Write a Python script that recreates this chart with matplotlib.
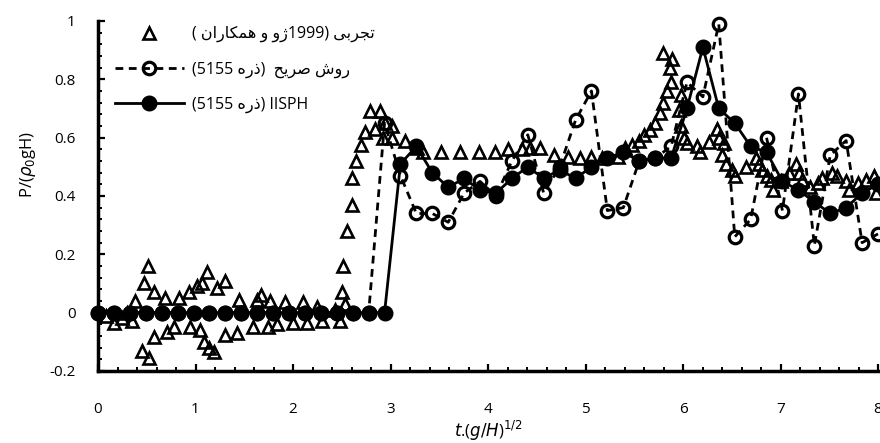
import numpy as np
import matplotlib.pyplot as plt
from matplotlib.ticker import MultipleLocator, FuncFormatter

# time of the numerical outputs (same grid for both SPH runs)
t_num = [0.000, 0.163, 0.327, 0.490, 0.653, 0.816, 0.980, 1.143, 1.306, 1.469,
         1.633, 1.796, 1.959, 2.122, 2.286, 2.449, 2.612, 2.776, 2.939, 3.102,
         3.265, 3.429, 3.592, 3.755, 3.918, 4.082, 4.245, 4.408, 4.571, 4.735,
         4.898, 5.061, 5.224, 5.388, 5.551, 5.714, 5.878, 6.041, 6.204, 6.367,
         6.531, 6.694, 6.857, 7.020, 7.184, 7.347, 7.510, 7.673, 7.837, 8.000]

p_explicit = [0, 0, 0, 0, 0, 0, 0, 0, 0, 0,
              0, 0, 0, 0, 0, 0, 0, 0, 0.65, 0.47,
              0.34, 0.34, 0.31, 0.41, 0.45, 0.40, 0.52, 0.61, 0.41, 0.50,
              0.66, 0.76, 0.35, 0.36, 0.52, 0.53, 0.57, 0.79, 0.74, 0.99,
              0.26, 0.32, 0.60, 0.35, 0.75, 0.23, 0.54, 0.59, 0.24, 0.27]

p_iisph = [0, 0, 0, 0, 0, 0, 0, 0, 0, 0,
           0, 0, 0, 0, 0, 0, 0, 0, 0, 0.51,
           0.57, 0.48, 0.43, 0.46, 0.42, 0.41, 0.46, 0.50, 0.46, 0.49,
           0.46, 0.50, 0.53, 0.55, 0.52, 0.53, 0.53, 0.70, 0.91, 0.70,
           0.65, 0.57, 0.55, 0.45, 0.42, 0.38, 0.34, 0.36, 0.41, 0.44]

# experiment (Zhou et al. 1999)
t_exp = [0.08, 0.16, 0.25, 0.30, 0.35, 0.38, 0.45, 0.47, 0.51, 0.52,
         0.57, 0.57, 0.69, 0.71, 0.78, 0.83, 0.93, 0.94, 1.02, 1.05,
         1.07, 1.09, 1.12, 1.14, 1.19, 1.22, 1.30, 1.30, 1.43, 1.45,
         1.59, 1.63, 1.67, 1.74, 1.76, 1.84, 1.92, 2.00, 2.10, 2.14,
         2.25, 2.30, 2.43, 2.48, 2.50, 2.51, 2.53, 2.55, 2.60, 2.61,
         2.65, 2.70, 2.74, 2.79, 2.84, 2.89, 2.92, 2.94, 3.02, 3.02,
         3.15, 3.27, 3.33, 3.52, 3.71, 3.91, 4.07, 4.20, 4.35, 4.43,
         4.53, 4.68, 4.82, 4.94, 5.06, 5.17, 5.33, 5.40, 5.48, 5.55,
         5.60, 5.66, 5.71, 5.76, 5.79, 5.84, 5.88, 5.87, 5.89, 5.79,
         5.98, 5.96, 5.98, 6.01, 6.04, 6.14, 6.17, 6.27, 6.35, 6.37,
         6.42, 6.40, 6.44, 6.50, 6.53, 6.65, 6.75, 6.78, 6.81, 6.86,
         6.90, 6.92, 7.01, 7.09, 7.16, 7.19, 7.22, 7.30, 7.38, 7.43,
         7.53, 7.58, 7.67, 7.70, 7.79, 7.88, 7.96, 7.98]
p_exp = [-0.01, -0.035, -0.02, 0.00, -0.03, 0.04, -0.13, 0.10, 0.16, -0.155,
         0.07, -0.085, 0.05, -0.065, -0.05, 0.05, 0.07, -0.05, 0.09, -0.06,
         0.10, -0.10, 0.14, -0.12, -0.135, 0.085, 0.11, -0.075, -0.07, 0.045,
         -0.05, 0.045, 0.06, -0.05, 0.04, -0.04, 0.035, -0.035, 0.035, -0.035,
         0.02, -0.03, 0.01, -0.03, 0.07, 0.16, 0.03, 0.28, 0.37, 0.46,
         0.52, 0.575, 0.62, 0.69, 0.63, 0.69, 0.60, 0.65, 0.64, 0.60,
         0.59, 0.565, 0.55, 0.55, 0.55, 0.55, 0.55, 0.56, 0.56, 0.565,
         0.565, 0.54, 0.535, 0.53, 0.535, 0.53, 0.535, 0.565, 0.575, 0.59,
         0.61, 0.625, 0.65, 0.685, 0.72, 0.76, 0.79, 0.84, 0.87, 0.89,
         0.745, 0.695, 0.64, 0.60, 0.58, 0.57, 0.55, 0.585, 0.63, 0.60,
         0.58, 0.54, 0.51, 0.49, 0.47, 0.50, 0.53, 0.51, 0.49, 0.47,
         0.455, 0.42, 0.45, 0.48, 0.51, 0.48, 0.455, 0.43, 0.445, 0.46,
         0.48, 0.47, 0.45, 0.42, 0.445, 0.455, 0.47, 0.41]

# contextual forms (isolated, final, initial, medial) so persian text is joined
FORMS = {
    '\u0627': ('\ufe8d', '\ufe8e', None, None),
    '\u0628': ('\ufe8f', '\ufe90', '\ufe91', '\ufe92'),
    '\u062a': ('\ufe95', '\ufe96', '\ufe97', '\ufe98'),
    '\u062c': ('\ufe9d', '\ufe9e', '\ufe9f', '\ufea0'),
    '\u062d': ('\ufea1', '\ufea2', '\ufea3', '\ufea4'),
    '\u0630': ('\ufeab', '\ufeac', None, None),
    '\u0631': ('\ufead', '\ufeae', None, None),
    '\u0698': ('\ufb8a', '\ufb8b', None, None),
    '\u0634': ('\ufeb5', '\ufeb6', '\ufeb7', '\ufeb8'),
    '\u0635': ('\ufeb9', '\ufeba', '\ufebb', '\ufebc'),
    '\u06a9': ('\ufb8e', '\ufb8f', '\ufb90', '\ufb91'),
    '\u0645': ('\ufee1', '\ufee2', '\ufee3', '\ufee4'),
    '\u0646': ('\ufee5', '\ufee6', '\ufee7', '\ufee8'),
    '\u0647': ('\ufee9', '\ufeea', '\ufeeb', '\ufeec'),
    '\u0648': ('\ufeed', '\ufeee', None, None),
    '\u06cc': ('\ufbfc', '\ufbfd', '\ufbfe', '\ufbff'),
}


def fa(word):
    word = word.replace('\u0643', '\u06a9').replace('\u064a', '\u06cc')
    out = []
    for i, ch in enumerate(word):
        iso, fin, ini, med = FORMS[ch]
        prev_joins = i > 0 and FORMS[word[i - 1]][2] is not None
        next_joins = i < len(word) - 1 and ini is not None
        if prev_joins and next_joins:
            out.append(med)
        elif prev_joins:
            out.append(fin)
        elif next_joins:
            out.append(ini)
        else:
            out.append(iso)
    return ''.join(reversed(out))


lab_exp = '( ' + fa('همکاران') + ' ' + fa('و') + ' ' + fa('ژو') + '1999) ' + fa('تجربی')
lab_explicit = '(5155 ' + fa('ذره') + ')  ' + fa('صریح') + ' ' + fa('روش')
lab_iisph = '(5155 ' + fa('ذره') + ') IISPH'

plt.rcParams['font.family'] = ['Open Sans', 'DejaVu Sans']
plt.rcParams['mathtext.fontset'] = 'dejavusans'

fig = plt.figure(figsize=(8.8, 4.43), dpi=100)
ax = fig.add_axes([98 / 880, 1 - 371 / 443, 780 / 880, 350 / 443])

ax.plot(t_exp, p_exp, linestyle='none', marker='^', markersize=9,
        markerfacecolor='none', markeredgecolor='black', markeredgewidth=1.9,
        clip_on=False, label=lab_exp)
ax.plot(t_num, p_explicit, linestyle=(0, (2.8, 2)), color='black', linewidth=2,
        marker='o', markersize=9, markerfacecolor='none',
        markeredgecolor='black', markeredgewidth=2.3, clip_on=False,
        label=lab_explicit)
ax.plot(t_num, p_iisph, linestyle='-', color='black', linewidth=2,
        marker='o', markersize=10.5, markerfacecolor='black',
        markeredgecolor='black', clip_on=False, label=lab_iisph)

ax.set_xlim(0, 8)
ax.set_ylim(-0.2, 1)
ax.xaxis.set_major_locator(MultipleLocator(1))
ax.xaxis.set_minor_locator(MultipleLocator(0.2))
ax.yaxis.set_major_locator(MultipleLocator(0.2))
ax.yaxis.set_minor_locator(MultipleLocator(0.04))
ax.yaxis.set_major_formatter(FuncFormatter(lambda v, p: '%g' % round(v, 1)))

for s in ['top', 'right']:
    ax.spines[s].set_visible(False)
for s in ['left', 'bottom']:
    ax.spines[s].set_linewidth(2.5)

ax.tick_params(which='major', direction='in', length=5, width=1.6, labelsize=11)
ax.tick_params(which='minor', direction='in', length=3, width=1.4)
ax.tick_params(axis='x', which='major', pad=22)
ax.tick_params(axis='y', which='major', pad=16)

ax.set_xlabel(r'$\it{t}$.($\it{g/H}$)$^{1/2}$', fontsize=12, labelpad=2)
ax.set_ylabel(r'P/($\rho_0$gH)', fontsize=12)
ax.yaxis.set_label_coords(-0.09, 0.59)
ax.yaxis.label.set_verticalalignment('center')

ax.legend(loc='upper left', bbox_to_anchor=(107 / 880, 1 - 18 / 443),
          bbox_transform=fig.transFigure, frameon=False, borderpad=0,
          handlelength=4.3, handletextpad=0.5, labelspacing=1.2,
          fontsize=11.5)

fig.savefig('out.png', dpi=100)
